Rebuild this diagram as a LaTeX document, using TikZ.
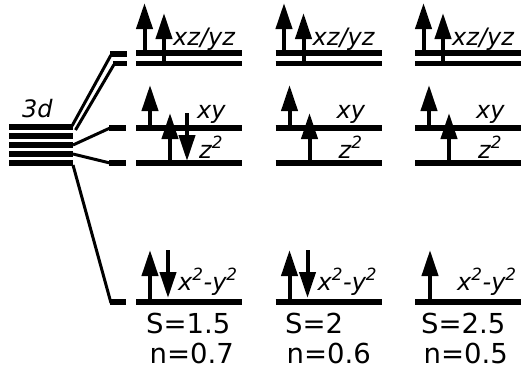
\documentclass[tikz,border=0pt]{standalone}
\usepackage{fontspec}
\setmainfont{DejaVu Sans}
\usetikzlibrary{arrows.meta}
\begin{document}
\begin{tikzpicture}[x=1pt,y=-1pt,
  level/.style={line width=5.5pt},
  conn/.style={line width=3pt},
  spin/.style={line width=4pt,-{Triangle[width=16pt,length=26pt]}},
  orb/.style={font=\fontsize{24}{24}\selectfont\itshape, inner sep=0pt, anchor=base west},
  val/.style={font=\fontsize{27.5}{27.5}\selectfont, inner sep=0pt, anchor=base west}]
\useasboundingbox (0,0) rectangle (521,375);
% 3d stack
\foreach \y in {127,136,145,154,163} \draw[level] (9,\y) -- (73,\y);
\node[orb] (d3) at (22,117) {3d};
% stubs
\coordinate (xzA) at (110,54);
\coordinate (xzB) at (113,63.5);
\coordinate (xyS) at (109,128);
\coordinate (zzS) at (109,163);
\coordinate (xxS) at (110,302);
\draw[level] (xzA) -- (127,54);
\draw[level] (xzB) -- (127,63.5);
\draw[level] (xyS) -- (126,128);
\draw[level] (zzS) -- (126,163);
\draw[level] (xxS) -- (126,302);
% connectors
\coordinate (t1) at (72,126);
\coordinate (t2) at (75.5,130);
\coordinate (t3) at (73,145);
\coordinate (t4) at (73,154);
\coordinate (t5) at (73,165);
\draw[conn] (t1) -- ([xshift=1pt,yshift=-1pt]xzA);
\draw[conn] (t2) -- ([xshift=1pt,yshift=-1pt]xzB);
\draw[conn] (t3) -- ([xshift=1pt]xyS);
\draw[conn] (t4) -- ([xshift=1pt]zzS);
\draw[conn] (t5) -- ([xshift=1pt,yshift=-1pt]xxS);
% columns
\foreach \cx/\ux in {136/14,275.5/14,415/15} {
\begin{scope}[xshift=\cx pt]
\draw[level] (0,53) -- (106,53);
\draw[level] (0,63.5) -- (106,63.5);
\draw[level] (0,128) -- (106,128);
\draw[level] (0,163) -- (106,163);
\draw[level] (0,302) -- (106,302);
\draw[spin] (8.5,53) -- (8.5,3);
\draw[spin] (28,63.5) -- (28,13);
\draw[spin] (14,128) -- (14,85);
\draw[spin] (34,163) -- (34,113);
\draw[spin] (\ux,302) -- (\ux,250);
\node[orb] (xz) at (37,45) {xz/yz};
\node[orb] (xy) at (61,118) {xy};
\node[orb] (zz) at (63,158) {z\textsuperscript{2}};
\node[orb] (xx) at (42,290) {x\textsuperscript{2}-y\textsuperscript{2}};
\end{scope}
}
% column-specific arrows
\draw[spin] (187,113) -- (187,161);
\draw[spin] (168,250) -- (168,298);
\draw[spin] (307.5,250) -- (307.5,298);
% spin and occupancy values
\node[val] (S1) at (146,333) {S=1.5};
\node[val] (n1) at (149.5,363) {n=0.7};
\node[val] (S2) at (285,333) {S=2};
\node[val] (n2) at (286.5,363) {n=0.6};
\node[val] (S3) at (421,333) {S=2.5};
\node[val] (n3) at (423.5,363) {n=0.5};
\end{tikzpicture}
\end{document}
